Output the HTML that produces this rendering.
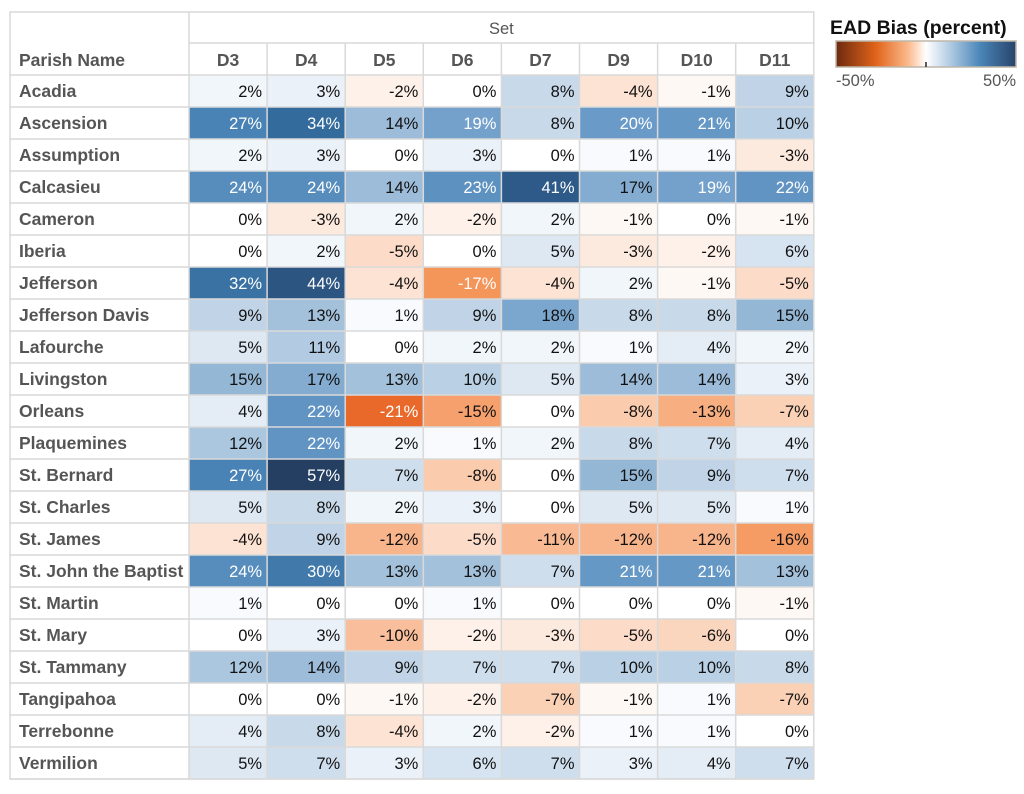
<!DOCTYPE html>
<html><head><meta charset="utf-8"><style>
body{margin:0;background:#fff;width:1024px;height:789px;overflow:hidden}
svg{font-family:"Liberation Sans",Arial,sans-serif}
</style></head><body>
<svg id="chart" width="1024" height="789" viewBox="0 0 1024 789">
<defs><linearGradient id="lg" x1="0" x2="1" y1="0" y2="0">
<stop offset="0" stop-color="#6b2a0e"/><stop offset="0.22" stop-color="#e0631a"/><stop offset="0.4" stop-color="#fbb98c"/><stop offset="0.5" stop-color="#ffffff"/><stop offset="0.62" stop-color="#b9d1e6"/><stop offset="0.8" stop-color="#4a86b8"/><stop offset="1" stop-color="#27436a"/></linearGradient></defs>
<g id="legend">
<text x="830" y="34" font-size="19.5" font-weight="bold" fill="#111">EAD Bias (percent)</text>
<rect x="836" y="41" width="180" height="26" fill="url(#lg)" stroke="#bdb6a8" stroke-width="1.5"/>
<line x1="926" y1="62" x2="926" y2="67" stroke="#222" stroke-width="1.5"/>
<text x="836" y="86" font-size="16.5" fill="#555">-50%</text>
<text x="1016" y="86" font-size="16.5" fill="#555" text-anchor="end">50%</text>
</g>
</svg>
<script>
const parishes=["Acadia","Ascension","Assumption","Calcasieu","Cameron","Iberia","Jefferson","Jefferson Davis","Lafourche","Livingston","Orleans","Plaquemines","St. Bernard","St. Charles","St. James","St. John the Baptist","St. Martin","St. Mary","St. Tammany","Tangipahoa","Terrebonne","Vermilion"];
const sets=["D3","D4","D5","D6","D7","D9","D10","D11"];
const D3=[2,27,2,24,0,0,32,9,5,15,4,12,27,5,-4,24,1,0,12,0,4,5];
const D4=[3,34,3,24,-3,2,44,13,11,17,22,22,57,8,9,30,0,3,14,0,8,7];
const D5=[-2,14,0,14,2,-5,-4,1,0,13,-21,2,7,2,-12,13,0,-10,9,-1,-4,3];
const D6=[0,19,3,23,-2,0,-17,9,2,10,-15,1,-8,3,-5,13,1,-2,7,-2,2,6];
const D7=[8,8,0,41,2,5,-4,18,2,5,0,2,0,0,-11,7,0,-3,7,-7,-2,7];
const D9=[-4,20,1,17,-1,-3,2,8,1,14,-8,8,15,5,-12,21,0,-5,10,-1,1,3];
const D10=[-1,21,1,19,0,-2,-1,8,4,14,-13,7,9,5,-12,21,0,-6,10,1,1,4];
const D11=[9,10,-3,22,-1,6,-5,15,2,3,-7,4,7,1,-16,13,-1,0,8,-7,0,7];
const series=[D3,D4,D5,D6,D7,D9,D10,D11];

const stops=[[-57,"#7a2e0c"],[-40,"#d35a12"],[-21,"#e8692a"],[-17,"#f4955a"],[-12,"#f8b48a"],[-5,"#fcdcc8"],[0,"#ffffff"],[5,"#dde8f3"],[14,"#9dbcd9"],[20,"#6a9bc8"],[27,"#4983b5"],[34,"#336b9c"],[41,"#2d5a89"],[57,"#253f63"]];
function hex(h){return [1,3,5].map(i=>parseInt(h.substr(i,2),16));}
function color(v){
  if(v<=stops[0][0])return stops[0][1];
  for(let i=1;i<stops.length;i++){if(v<=stops[i][0]){const a=stops[i-1],b=stops[i];const t=(v-a[0])/(b[0]-a[0]);const ca=hex(a[1]),cb=hex(b[1]);return "rgb("+ca.map((c,k)=>Math.round(c+(cb[k]-c)*t)).join(",")+")";}}
  return stops[stops.length-1][1];
}
const X0=10,NAMEW=179,CW=78.1,Y0=12,HDR1=31,HDR2=32,RH=32;
const xPos=j=>X0+NAMEW+j*CW;
const yPos=i=>Y0+HDR1+HDR2+i*RH;
const svg=document.getElementById('chart');
const NS="http://www.w3.org/2000/svg";
function mk(tag,attrs,txt){const e=document.createElementNS(NS,tag);for(const k in attrs)e.setAttribute(k,attrs[k]);if(txt!==undefined)e.textContent=txt;svg.appendChild(e);return e;}
for(let j=0;j<sets.length;j++){for(let i=0;i<parishes.length;i++){
  const v=series[j][i];
  const r=mk('rect',{x:xPos(j),y:yPos(i),width:CW,height:RH,fill:color(v)});
  
  
  const white=(v>=19||v<=-17);
  const t=mk('text',{x:xPos(j)+CW-5,y:yPos(i)+22,'font-size':16.5,'text-anchor':'end',fill:white?'#fff':'#111'},v+'%');
  
  
}}
for(let i=0;i<parishes.length;i++){
  const t=mk('text',{x:X0+9,y:yPos(i)+22,'font-size':17.5,'font-weight':'bold',fill:'#555'},parishes[i]);
  
  
}
let t=mk('text',{x:(xPos(0)+xPos(sets.length))/2,y:Y0+22,'font-size':16.5,'text-anchor':'middle',fill:'#555'},'Set');


t=mk('text',{x:X0+9,y:Y0+HDR1+23,'font-size':17.5,'font-weight':'bold',fill:'#555'},'Parish Name');


for(let j=0;j<sets.length;j++){
  const h=mk('text',{x:xPos(j)+CW/2,y:Y0+HDR1+23,'font-size':17.5,'font-weight':'bold','text-anchor':'middle',fill:'#555'},sets[j]);
  
  
}
const gc='#d9d9d9';
const xr=xPos(sets.length), yb=yPos(parishes.length);
mk('rect',{x:X0,y:Y0,width:xr-X0,height:yb-Y0,fill:'none',stroke:gc,'stroke-width':1.5});
for(let i=0;i<=parishes.length;i++)mk('line',{x1:X0,x2:xr,y1:yPos(i),y2:yPos(i),stroke:gc,'stroke-width':1.5});
mk('line',{x1:xPos(0),x2:xr,y1:Y0+HDR1,y2:Y0+HDR1,stroke:gc,'stroke-width':1.5});
mk('line',{x1:xPos(0),x2:xPos(0),y1:Y0,y2:yb,stroke:gc,'stroke-width':1.5});
for(let j=1;j<sets.length;j++)mk('line',{x1:xPos(j),x2:xPos(j),y1:Y0+HDR1,y2:yb,stroke:gc,'stroke-width':1.5});
</script>
</body></html>
